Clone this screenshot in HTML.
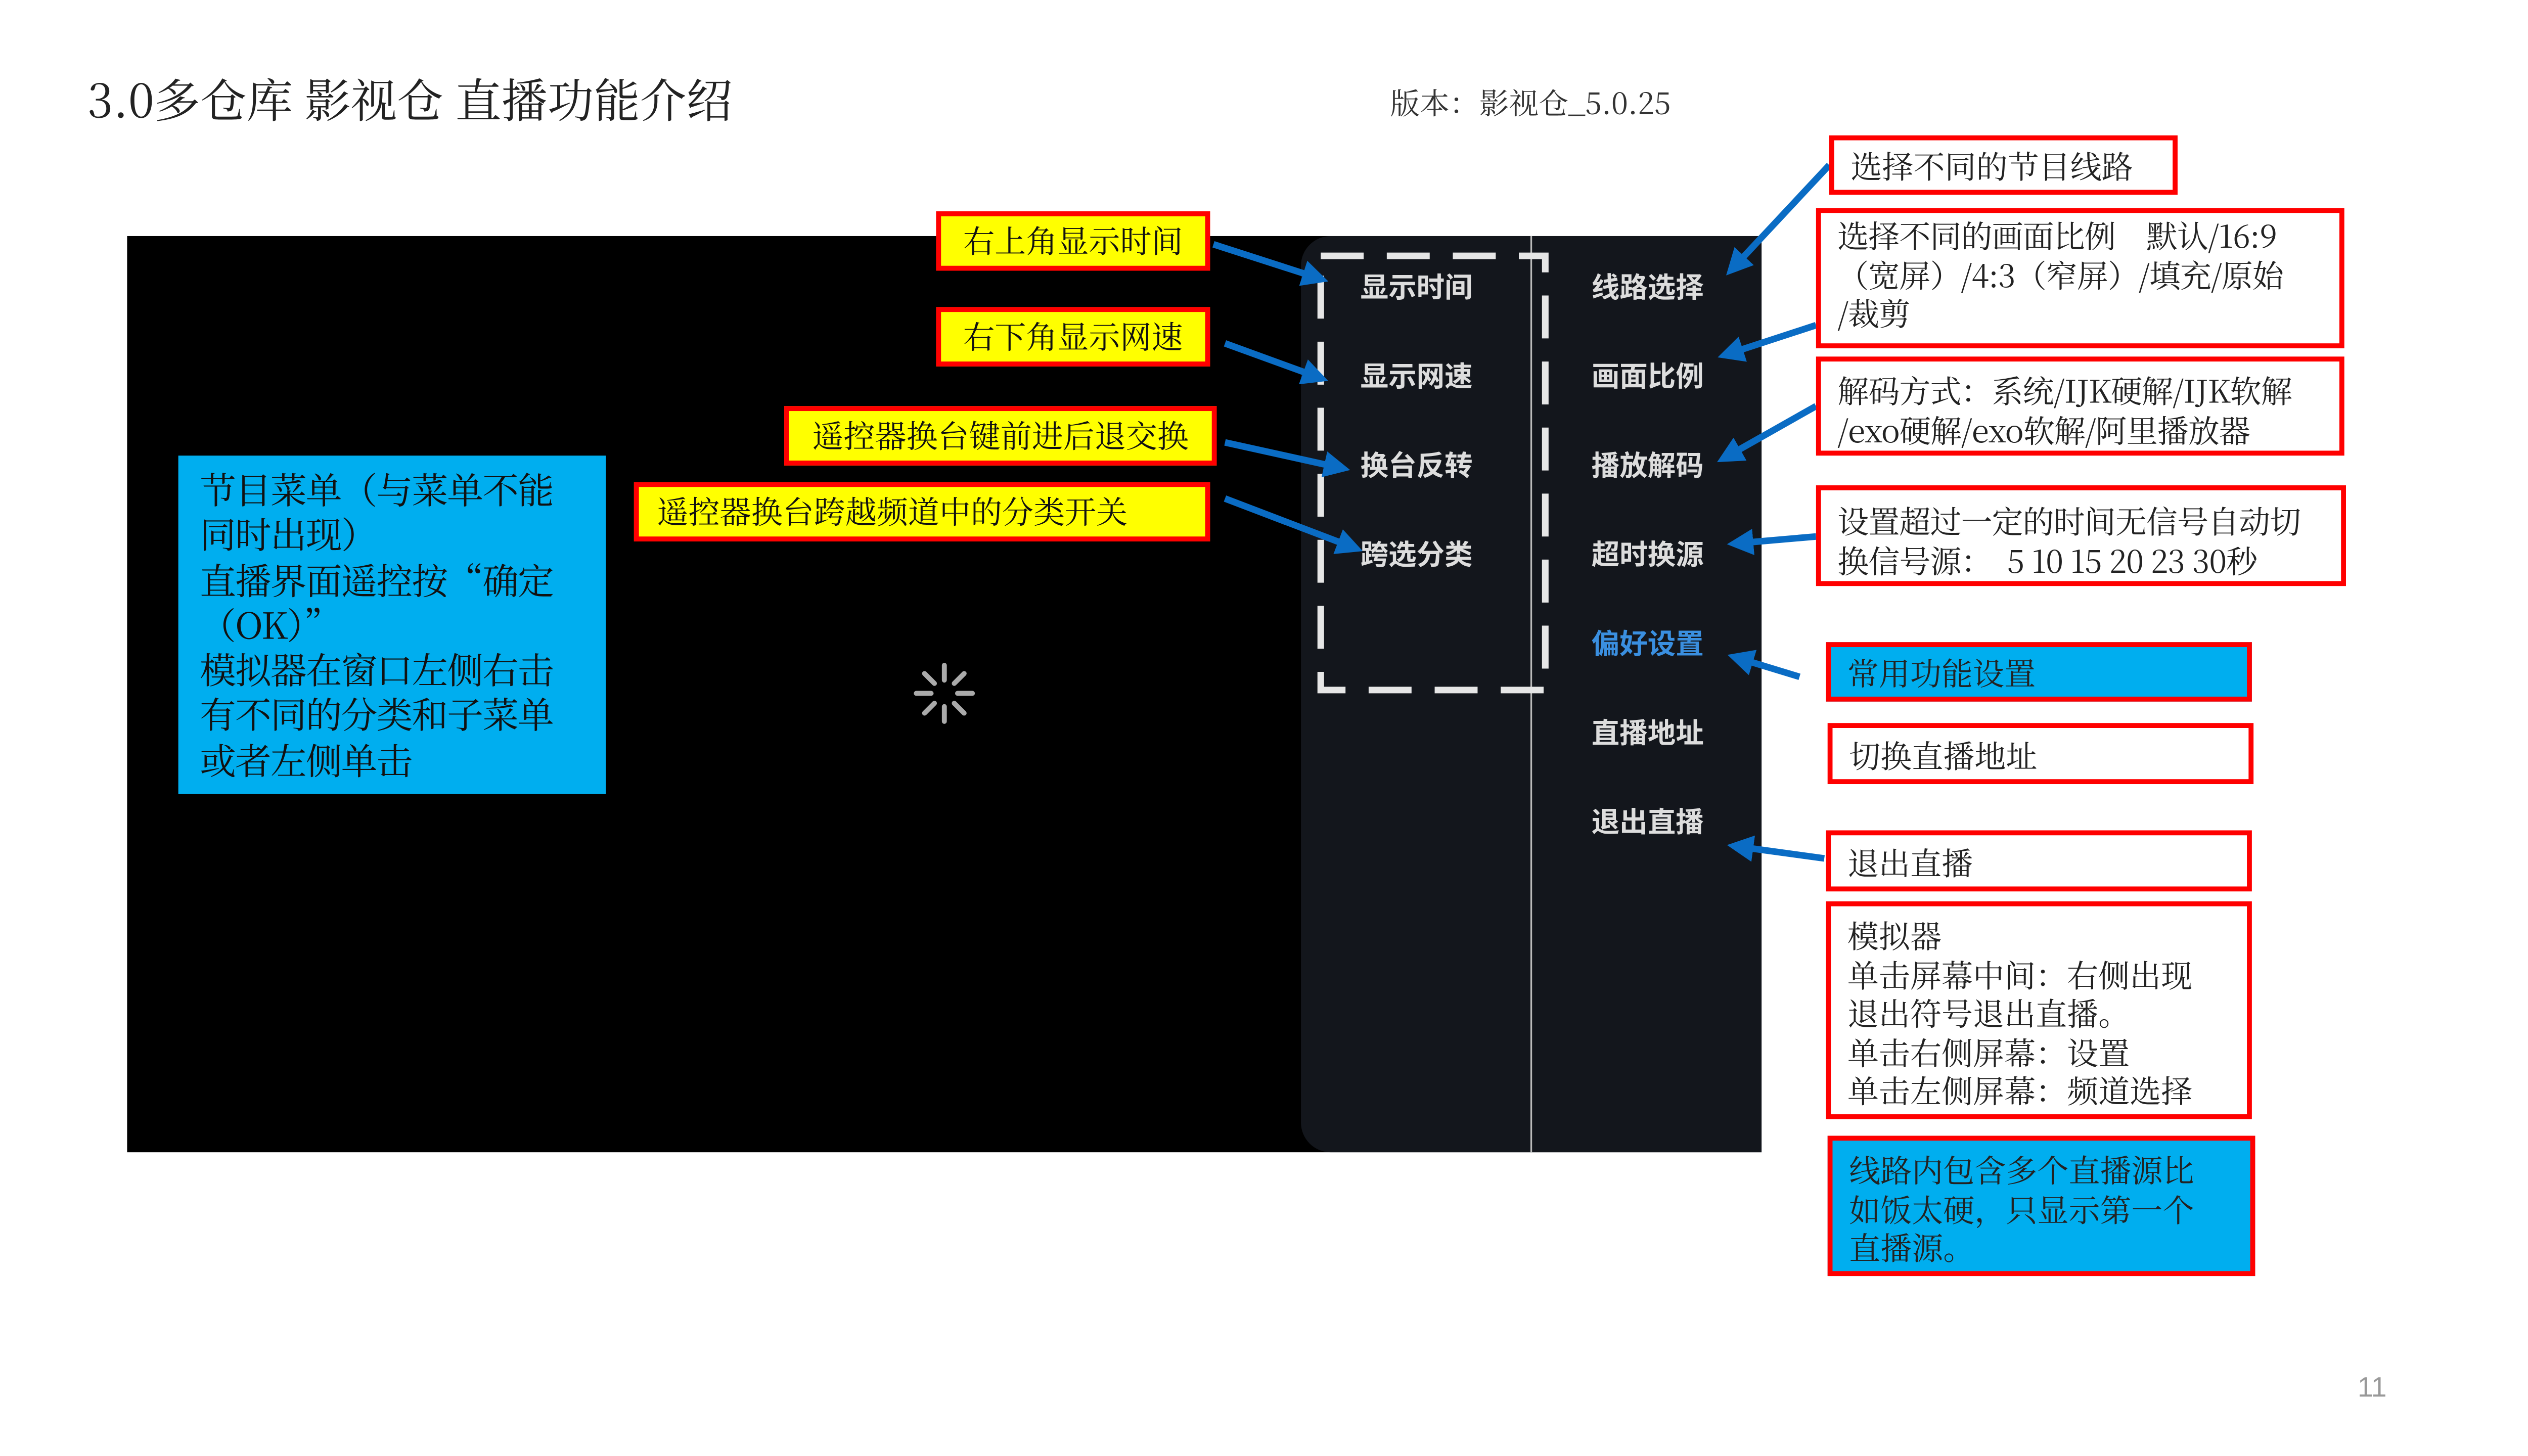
<!DOCTYPE html>
<html><head><meta charset="utf-8"><style>
html,body{margin:0;padding:0;background:#fff;width:5120px;height:2880px;overflow:hidden}
#s{position:absolute;left:0;top:0;width:1568px;height:882px;transform:scale(3.2653);transform-origin:0 0;font-family:"Noto Serif CJK SC","Liberation Serif",serif}
.a{position:absolute;box-sizing:border-box;white-space:nowrap}
.r{border:3px solid #f00;background:#fff;color:#222;font-size:19px;line-height:23.5px;padding:2px 10px}
.y{background:#ff0;border:3px solid #f00;font-size:19px;line-height:29px;text-align:center;color:#111}
.m{position:absolute;font-family:"Noto Sans CJK SC",sans-serif;font-weight:bold;font-size:17px;line-height:20px;color:#ddd}
</style></head><body><div id="s">
<div class="a" style="left:53px;top:40px;font-size:28px;color:#222">3.0多仓库 影视仓 直播功能介绍</div>
<div class="a" style="left:842px;top:49px;font-size:18px;color:#333">版本：影视仓_5.0.25</div>
<div class="a" style="left:77px;top:143px;width:990px;height:555px;background:#000"></div>
<div class="a" style="left:788px;top:143px;width:279px;height:555px;background:#13161c;border-radius:18px 0 0 18px"></div>
<div class="a" style="left:927px;top:143px;width:1px;height:555px;background:#bbb"></div>
<svg class="a" style="left:0;top:0" width="1568" height="882">
<rect x="800" y="155" width="136" height="263" fill="none" stroke="#e6e6e6" stroke-width="4" stroke-dasharray="26,14"/>
<g transform="translate(572,420)" stroke="#aaa" stroke-width="3" stroke-linecap="round">
<line x1="0" y1="-8" x2="0" y2="-17"/><line x1="6" y1="-6" x2="12" y2="-12"/><line x1="8" y1="0" x2="17" y2="0"/><line x1="6" y1="6" x2="12" y2="12"/><line x1="0" y1="8" x2="0" y2="17"/><line x1="-6" y1="6" x2="-12" y2="12"/><line x1="-8" y1="0" x2="-17" y2="0"/><line x1="-6" y1="-6" x2="-12" y2="-12"/></g>
<defs><marker id="h" markerWidth="4" markerHeight="4" refX="2" refY="2" orient="auto"><path d="M0,0L4,2L0,4z" fill="#0a6cc4"/></marker></defs>
<g stroke="#0a6cc4" stroke-width="4" marker-end="url(#h)">
<line x1="735" y1="148" x2="797" y2="168"/><line x1="742" y1="208" x2="797" y2="228"/><line x1="742" y1="268" x2="810" y2="283"/><line x1="742" y1="302" x2="818" y2="331"/>
<line x1="1108" y1="100" x2="1051" y2="161"/><line x1="1100" y1="197" x2="1048" y2="214"/><line x1="1100" y1="246" x2="1047" y2="276"/><line x1="1100" y1="325" x2="1054" y2="329"/><line x1="1090" y1="410" x2="1054" y2="399"/><line x1="1105" y1="520" x2="1054" y2="513"/>
</g></svg>
<div class="m" style="left:824px;top:163px">显示时间</div><div class="m" style="left:824px;top:217px">显示网速</div><div class="m" style="left:824px;top:271px">换台反转</div><div class="m" style="left:824px;top:325px">跨选分类</div>
<div class="m" style="left:964px;top:163px">线路选择</div><div class="m" style="left:964px;top:217px">画面比例</div><div class="m" style="left:964px;top:271px">播放解码</div><div class="m" style="left:964px;top:325px">超时换源</div><div class="m" style="left:964px;top:379px;color:#3a8fe0">偏好设置</div><div class="m" style="left:964px;top:433px">直播地址</div><div class="m" style="left:964px;top:487px">退出直播</div>
<div class="a y" style="left:567px;top:128px;width:166px;height:36px">右上角显示时间</div>
<div class="a y" style="left:567px;top:186px;width:166px;height:36px">右下角显示网速</div>
<div class="a y" style="left:475px;top:246px;width:262px;height:36px">遥控器换台键前进后退交换</div>
<div class="a y" style="left:384px;top:292px;width:349px;height:36px;text-align:left;padding-left:11px">遥控器换台跨越频道中的分类开关</div>
<div class="a" style="left:108px;top:276px;width:259px;height:205px;background:#00aeef;color:#111;font-size:22px;line-height:27.3px;padding:7px 13px;letter-spacing:-0.6px">节目菜单（与菜单不能<br>同时出现）<br>直播界面遥控按“确定<br>（OK）”<br>模拟器在窗口左侧右击<br>有不同的分类和子菜单<br>或者左侧单击</div>
<div class="a r" style="left:1108px;top:82px;width:211px;height:36px;line-height:28px">选择不同的节目线路</div>
<div class="a r" style="left:1100px;top:126px;width:320px;height:85px;letter-spacing:-0.3px">选择不同的画面比例　默认/16:9<br>（宽屏）/4:3（窄屏）/填充/原始<br>/裁剪</div>
<div class="a r" style="left:1100px;top:216px;width:320px;height:60px;padding-top:6px;letter-spacing:-0.3px">解码方式：系统/IJK硬解/IJK软解<br>/exo硬解/exo软解/阿里播放器</div>
<div class="a r" style="left:1100px;top:294px;width:321px;height:61px;padding-top:7px;letter-spacing:-0.3px">设置超过一定的时间无信号自动切<br>换信号源：　5 10 15 20 23 30秒</div>
<div class="a r" style="left:1106px;top:389px;width:258px;height:36px;line-height:28px;background:#00aeef">常用功能设置</div>
<div class="a r" style="left:1107px;top:438px;width:258px;height:37px;line-height:29px">切换直播地址</div>
<div class="a r" style="left:1106px;top:503px;width:258px;height:37px;line-height:29px">退出直播</div>
<div class="a r" style="left:1106px;top:546px;width:258px;height:132px;padding-top:6px">模拟器<br>单击屏幕中间：右侧出现<br>退出符号退出直播。<br>单击右侧屏幕：设置<br>单击左侧屏幕：频道选择</div>
<div class="a r" style="left:1107px;top:688px;width:259px;height:85px;background:#00aeef;padding-top:6px">线路内包含多个直播源比<br>如饭太硬，只显示第一个<br>直播源。</div>
<div class="a" style="left:1428px;top:831px;font-size:17px;color:#999;font-family:'Liberation Sans',sans-serif">11</div>
</div></body></html>
